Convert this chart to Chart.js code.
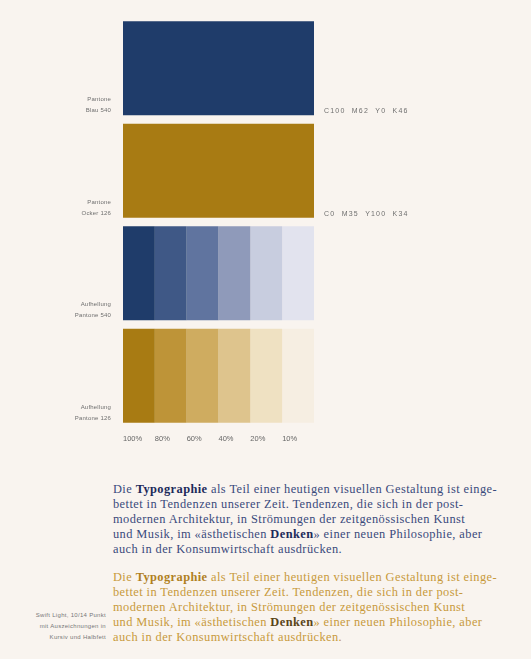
<!DOCTYPE html>
<html><head><meta charset="utf-8">
<script src="https://cdn.jsdelivr.net/npm/chart.js@4/dist/chart.umd.min.js"></script>
<style>
html,body{margin:0;padding:0;background:#f9f4ef;}
body{width:531px;height:659px;position:relative;overflow:hidden;}
#wrap{position:absolute;left:0;top:0;width:531px;height:460px;}
.para{position:absolute;left:113px;width:410px;font-family:"Liberation Serif",serif;font-size:12.4px;letter-spacing:0.42px;line-height:15px;white-space:nowrap;}
#p1{top:482px;color:#3a4a7c;}
#p1 b{color:#1c2a5a;}
#p2{top:570px;color:#c89a3c;}
#p2 b.t{color:#b0801e;}
#p2 b.d{color:#5a4418;}
#note{position:absolute;right:425px;top:610px;font-family:"Liberation Sans",sans-serif;font-size:6px;letter-spacing:0.3px;line-height:11px;color:#777;text-align:right;white-space:nowrap;}
</style></head>
<body>
<div id="wrap"><canvas id="c"></canvas></div>
<div class="para" id="p1">Die <b>Typographie</b> als Teil einer heutigen visuellen Gestaltung ist einge-<br>bettet in Tendenzen unserer Zeit. Tendenzen, die sich in der post-<br>modernen Architektur, in Strömungen der zeitgenössischen Kunst<br>und Musik, im «ästhetischen <b>Denken</b>» einer neuen Philosophie, aber<br>auch in der Konsumwirtschaft ausdrücken.</div>
<div class="para" id="p2">Die <b class="t">Typographie</b> als Teil einer heutigen visuellen Gestaltung ist einge-<br>bettet in Tendenzen unserer Zeit. Tendenzen, die sich in der post-<br>modernen Architektur, in Strömungen der zeitgenössischen Kunst<br>und Musik, im «ästhetischen <b class="d">Denken</b>» einer neuen Philosophie, aber<br>auch in der Konsumwirtschaft ausdrücken.</div>
<div id="note">Swift Light, 10/14 Punkt<br>mit Auszeichnungen in<br>Kursiv und Halbfett</div>
<script>
// Rows (categories)
const rowLabels = [['Pantone','Blau 540'],['Pantone','Ocker 126'],['Aufhellung','Pantone 540'],['Aufhellung','Pantone 126']];
const rowValuesText = ['C100 M62 Y0 K46','C0 M35 Y100 K34','',''];
// Tint steps (x axis tick labels)
const tintLabels = ['100%','80%','60%','40%','20%','10%'];
// Segment widths per tint step, per row (solid rows use one full-width segment)
const seg100 = [6, 6, 1, 1];
const seg80  = [null, null, 1, 1];
const seg60  = [null, null, 1, 1];
const seg40  = [null, null, 1, 1];
const seg20  = [null, null, 1, 1];
const seg10  = [null, null, 1, 1];
// Colours
const blueTints = ['#1f3c6a','#3f5886','#60749f','#8f9aba','#c8cddf','#e2e3ee'];
const goldTints = ['#a87b13','#be9438','#cfac60','#dec48d','#efe1c2','#f6eee2'];

const segs = [seg100, seg80, seg60, seg40, seg20, seg10];
const datasets = segs.map((d, i) => ({
  label: tintLabels[i],
  data: d,
  backgroundColor: [blueTints[0], goldTints[0], blueTints[i], goldTints[i]],
  borderWidth: 0,
  barPercentage: 1,
  categoryPercentage: 0.915
}));

const sideLabels = {
  id: 'sideLabels',
  afterDatasetsDraw(chart) {
    const ctx = chart.ctx;
    const meta = chart.getDatasetMeta(0);
    const area = chart.chartArea;
    ctx.save();
    ctx.fillStyle = '#6f6f6f';
    meta.data.forEach((bar, i) => {
      const bottom = bar.y + bar.height / 2;
      ctx.textAlign = 'right';
      ctx.textBaseline = 'alphabetic';
      ctx.font = '6px "Liberation Sans", sans-serif';
      ctx.letterSpacing = '0.2px';
      const lines = rowLabels[i];
      lines.forEach((t, j) => {
        ctx.fillText(t, area.left - 12, bottom - 3 - (lines.length - 1 - j) * 11);
      });
      if (rowValuesText[i]) {
        ctx.textAlign = 'left';
        ctx.font = '7px "Liberation Sans", sans-serif';
        ctx.letterSpacing = '1.2px';
        ctx.fillText(rowValuesText[i].replace(/ /g, '  '), area.right + 10, bottom - 2);
      }
    });
    ctx.restore();
  }
};

new Chart(document.getElementById('c'), {
  type: 'bar',
  data: { labels: rowLabels.map(r => r.join(' ')), datasets },
  options: {
    indexAxis: 'y',
    responsive: true,
    maintainAspectRatio: false,
    animation: false,
    layout: { padding: { left: 123, right: 217, top: 17, bottom: 10 } },
    plugins: { legend: { display: false }, tooltip: { enabled: false } },
    scales: {
      y: { stacked: true, display: false },
      x: {
        stacked: true, min: 0, max: 6,
        grid: { display: false, drawTicks: false },
        border: { display: false },
        afterBuildTicks: (s) => { s.ticks = [0,1,2,3,4,5].map(v => ({ value: v })); },
        ticks: {
          align: 'start', padding: 7, color: '#666',
          font: { size: 7.5, family: '"Liberation Sans", sans-serif' },
          callback: (v) => tintLabels[v]
        }
      }
    }
  },
  plugins: [sideLabels]
});
</script>
</body></html>
